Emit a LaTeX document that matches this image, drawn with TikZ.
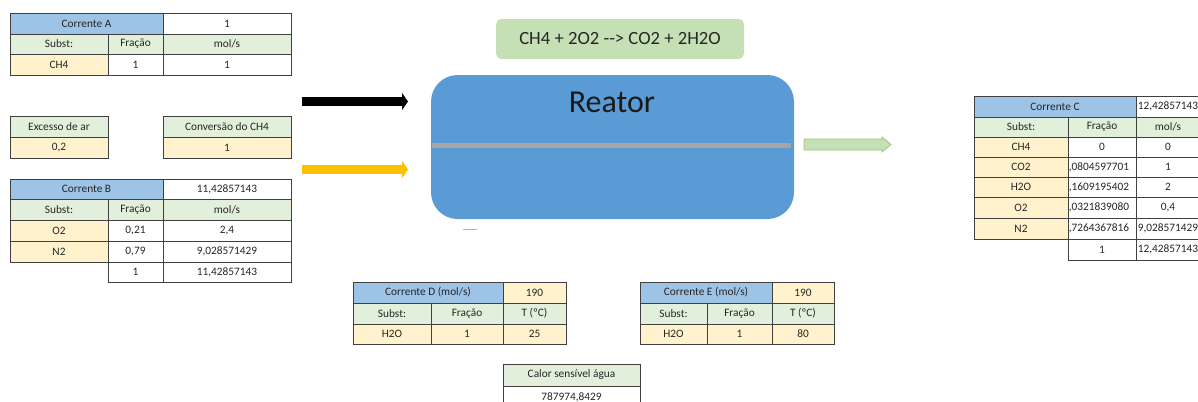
\documentclass[tikz,border=0pt]{standalone}
\usepackage{fontspec}
\setmainfont{Carlito}
\usetikzlibrary{arrows.meta}

\definecolor{hdrblue}{HTML}{9DC3E6}
\definecolor{subgreen}{HTML}{E2EFDA}
\definecolor{inpyellow}{HTML}{FFF2CC}
\definecolor{reatorblue}{HTML}{5B9BD5}
\definecolor{eqgreen}{HTML}{C5E0B4}
\definecolor{arryellow}{HTML}{FFC000}
\definecolor{arrgreenline}{HTML}{9CC57F}

\tikzset{
  cellline/.style={draw=black!75, line width=0.7pt},
  celltext/.style={font=\fontsize{8.5}{10}\selectfont, text=black!85, inner sep=0pt},
  feedarrow/.style={line width=6.75pt, -{Triangle[length=4.5pt,width=12.75pt]}},
}

% one table cell: fill, name, x1, y1, x2, y2, text
\newcommand{\tcell}[7]{%
  \draw[cellline,fill=#1] (#3,#4) rectangle (#5,#6);
  \node[celltext] (#2) at ({(#3+#5)/2},{(#4+#6)/2}) {#7};}

% fraction cell of stream C, text cut at the cell border
\newcommand{\fcell}[4]{%
  \draw[cellline,fill=white] (1068,#2) rectangle (1136,#3);
  \begin{scope}
    \clip (1068,#2) rectangle (1136,#3);
    \node[celltext,anchor=west] (#1) at (1068.5,{(#2+#3)/2}) {#4};
  \end{scope}}

\begin{document}
\begin{tikzpicture}[x=0.75pt,y=-0.75pt]
  \useasboundingbox (0,0) rectangle (1198,401);

  % Corrente A
  \tcell{hdrblue}{A-hd}{10}{13}{163}{34}{Corrente A}
  \tcell{white}{A-tot}{163}{13}{291}{34}{1}
  \tcell{subgreen}{A-s}{10}{34}{108}{54}{Subst:}
  \tcell{subgreen}{A-f}{108}{34}{163}{54}{Fração}
  \tcell{subgreen}{A-m}{163}{34}{291}{54}{mol/s}
  \tcell{inpyellow}{A-ch4}{10}{54}{108}{75}{CH4}
  \tcell{white}{A-ch4f}{108}{54}{163}{75}{1}
  \tcell{white}{A-ch4m}{163}{54}{291}{75}{1}

  % Excesso de ar and conversion
  \tcell{subgreen}{exc-hd}{10}{116}{108}{137}{Excesso de ar}
  \tcell{inpyellow}{exc}{10}{137}{108}{158}{0,2}
  \tcell{subgreen}{conv-hd}{163}{116}{291}{137}{Conversão do CH4}
  \tcell{inpyellow}{conv}{163}{137}{291}{158}{1}

  % Corrente B
  \tcell{hdrblue}{B-hd}{10}{179}{163}{199}{Corrente B}
  \tcell{white}{B-tot}{163}{179}{291}{199}{11,42857143}
  \tcell{subgreen}{B-s}{10}{199}{108}{220}{Subst:}
  \tcell{subgreen}{B-f}{108}{199}{163}{220}{Fração}
  \tcell{subgreen}{B-m}{163}{199}{291}{220}{mol/s}
  \tcell{inpyellow}{B-o2}{10}{220}{108}{241}{O2}
  \tcell{white}{B-o2f}{108}{220}{163}{241}{0,21}
  \tcell{white}{B-o2m}{163}{220}{291}{241}{2,4}
  \tcell{inpyellow}{B-n2}{10}{241}{108}{262}{N2}
  \tcell{white}{B-n2f}{108}{241}{163}{262}{0,79}
  \tcell{white}{B-n2m}{163}{241}{291}{262}{9,028571429}
  \tcell{white}{B-sf}{108}{262}{163}{282}{1}
  \tcell{white}{B-sm}{163}{262}{291}{282}{11,42857143}

  % Reaction
  \node[fill=eqgreen, rounded corners=4pt, minimum width=186pt, minimum height=30pt,
        font=\fontsize{14}{16}\selectfont, text=black!85] (eq) at (620,39) {CH4 + 2O2 -{}-> CO2 + 2H2O};

  % Reactor
  \fill[reatorblue, rounded corners=20pt] (431,75) rectangle (794,219);
  \node[font=\fontsize{24}{28}\selectfont, text=black!90] (reator) at (612,102) {Reator};
  \fill[black!35] (432,143) rectangle (791,148);
  \draw[orange!70!brown, line width=1pt, opacity=0.7] (463,229.5) -- (477,229.5);

  % Feed and product arrows
  \coordinate (inA0) at (302,101.5);
  \coordinate (inA1) at (408,101.5);
  \coordinate (inB0) at (302,169.5);
  \coordinate (inB1) at (408,169.5);
  \draw[feedarrow, black] (inA0) -- (inA1);
  \draw[feedarrow, arryellow] (inB0) -- (inB1);
  \draw[fill=eqgreen, draw=arrgreenline, line width=0.6pt]
    (804,139) -- (882,139) -- (882,137) -- (891,144.5) -- (882,152) -- (882,150) -- (804,150) -- cycle;

  % Corrente C
  \tcell{hdrblue}{C-hd}{974}{96}{1136}{117}{Corrente C}
  \tcell{white}{C-tot}{1136}{96}{1200}{117}{12,42857143}
  \tcell{subgreen}{C-s}{974}{117}{1068}{137}{Subst:}
  \tcell{subgreen}{C-f}{1068}{117}{1136}{137}{Fração}
  \tcell{subgreen}{C-m}{1136}{117}{1200}{137}{mol/s}
  \foreach \nm/\ya/\yb in {CH4/137/157, CO2/157/177, H2O/177/197, O2/197/218, N2/218/239}
    \tcell{inpyellow}{C-\nm}{974}{\ya}{1068}{\yb}{\nm};
  \tcell{white}{C-ch4f}{1068}{137}{1136}{157}{0}
  \tcell{white}{C-ch4m}{1136}{137}{1200}{157}{0}
  \fcell{C-co2f}{157}{177}{,0804597701}
  \tcell{white}{C-co2m}{1136}{157}{1200}{177}{1}
  \fcell{C-h2of}{177}{197}{,1609195402}
  \tcell{white}{C-h2om}{1136}{177}{1200}{197}{2}
  \fcell{C-o2f}{197}{218}{,0321839080}
  \tcell{white}{C-o2m}{1136}{197}{1200}{218}{0,4}
  \fcell{C-n2f}{218}{239}{,7264367816}
  \tcell{white}{C-n2m}{1136}{218}{1200}{239}{9,028571429}
  \tcell{white}{C-sf}{1068}{239}{1136}{260}{1}
  \tcell{white}{C-sm}{1136}{239}{1200}{260}{12,42857143}

  % Corrente D
  \tcell{hdrblue}{D-hd}{353}{282}{503}{303}{Corrente D (mol/s)}
  \tcell{inpyellow}{D-tot}{503}{282}{566}{303}{190}
  \tcell{subgreen}{D-s}{353}{303}{431}{324}{Subst:}
  \tcell{subgreen}{D-f}{431}{303}{503}{324}{Fração}
  \tcell{subgreen}{D-t}{503}{303}{566}{324}{T (ºC)}
  \tcell{inpyellow}{D-h2o}{353}{324}{431}{344}{H2O}
  \tcell{inpyellow}{D-h2of}{431}{324}{503}{344}{1}
  \tcell{inpyellow}{D-h2ot}{503}{324}{566}{344}{25}

  % Corrente E
  \tcell{hdrblue}{E-hd}{640}{282}{772}{303}{Corrente E (mol/s)}
  \tcell{inpyellow}{E-tot}{772}{282}{834}{303}{190}
  \tcell{subgreen}{E-s}{640}{303}{707}{324}{Subst:}
  \tcell{subgreen}{E-f}{707}{303}{772}{324}{Fração}
  \tcell{subgreen}{E-t}{772}{303}{834}{324}{T (ºC)}
  \tcell{inpyellow}{E-h2o}{640}{324}{707}{344}{H2O}
  \tcell{inpyellow}{E-h2of}{707}{324}{772}{344}{1}
  \tcell{inpyellow}{E-h2ot}{772}{324}{834}{344}{80}

  % Calor sensivel
  \tcell{subgreen}{Q-hd}{503}{364}{640}{386}{Calor sensível água}
  \tcell{white}{Q}{503}{386}{640}{408}{787974,8429}
\end{tikzpicture}
\end{document}
